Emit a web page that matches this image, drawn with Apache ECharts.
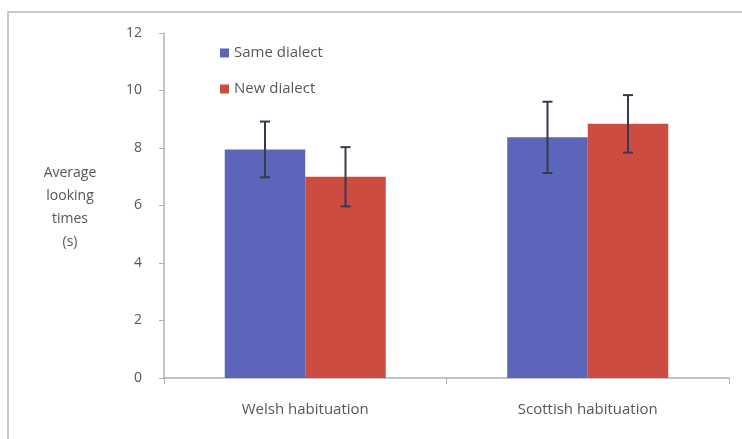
<!DOCTYPE html>
<html>
<head>
<meta charset="utf-8">
<script src="https://cdn.jsdelivr.net/npm/echarts@6/dist/echarts.min.js"></script>
<style>
  html, body { margin: 0; padding: 0; background: #ffffff; }
  #chart { width: 742px; height: 439px; }
</style>
</head>
<body>
<div id="chart"></div>
<script>
// Habituation conditions on the x axis
const categories = ['Welsh habituation', 'Scottish habituation'];
// Mean looking times (s) and their error-bar half-lengths
const sameMeans = [7.95, 8.37];
const sameErrors = [0.97, 1.24];
const newMeans = [7.0, 8.84];
const newErrors = [1.03, 1.0];
// Y axis ticks
const yTicks = [0, 2, 4, 6, 8, 10, 12];
// Y axis title, one word per line
const yTitleLines = ['Average', 'looking', 'times', '(s)'];

const BLUE = '#5d65ba';
const RED = '#cd4c41';
const CATEGORY_GAP = 0.43;
const font = '"Open Sans", Lato, sans-serif';
const TEXT = '#575757';

// Error bars for one series, shifted to sit on the centre of that series' bar
function errorSeries(means, errors, side) {
  return {
    type: 'custom',
    z: 10,
    silent: true,
    data: means.map((m, i) => [i, m - errors[i], m + errors[i]]),
    renderItem: function (params, api) {
      const band = api.size([1, 0])[0];
      const barW = band * (1 - CATEGORY_GAP) / 2;
      const lo = api.coord([api.value(0), api.value(1)]);
      const hi = api.coord([api.value(0), api.value(2)]);
      const x = lo[0] + side * barW / 2;
      const cap = 5;
      const style = { stroke: '#373a4c', lineWidth: 2 };
      return {
        type: 'group',
        children: [
          { type: 'line', shape: { x1: x, y1: lo[1], x2: x, y2: hi[1] }, style: style },
          { type: 'line', shape: { x1: x - cap, y1: hi[1], x2: x + cap, y2: hi[1] }, style: style },
          { type: 'line', shape: { x1: x - cap, y1: lo[1], x2: x + cap, y2: lo[1] }, style: style }
        ]
      };
    }
  };
}

// Y axis title drawn line by line, centred on a common x
const titleGraphics = yTitleLines.map((line, i) => ({
  type: 'text',
  x: 70,
  y: 173 + i * 23,
  style: {
    text: line,
    align: 'center',
    verticalAlign: 'middle',
    font: '14px ' + font,
    fill: TEXT
  }
}));

const chart = echarts.init(document.getElementById('chart'));
chart.setOption({
  backgroundColor: '#ffffff',
  animation: false,
  graphic: [
    {
      type: 'rect',
      shape: { x: 8, y: 12, width: 800, height: 500 },
      style: { fill: 'none', stroke: '#c9c9c9', lineWidth: 2 }
    }
  ].concat(titleGraphics),
  legend: {
    orient: 'vertical',
    left: 215,
    top: 38,
    itemGap: 16,
    itemWidth: 9,
    itemHeight: 9,
    icon: 'rect',
    textStyle: { fontFamily: font, fontSize: 15, color: TEXT, lineHeight: 20 },
    data: ['Same dialect', 'New dialect']
  },
  grid: { left: 164, right: 13, top: 33, bottom: 61, containLabel: false },
  xAxis: {
    type: 'category',
    data: categories,
    axisLine: { lineStyle: { color: '#b0b0b0', width: 1.5 } },
    axisTick: { show: true, length: 6, lineStyle: { color: '#b0b0b0' } },
    axisLabel: { fontFamily: font, fontSize: 15, color: TEXT, margin: 24 }
  },
  yAxis: {
    type: 'value',
    min: yTicks[0],
    max: yTicks[yTicks.length - 1],
    interval: 2,
    splitLine: { show: false },
    axisLine: { show: true, lineStyle: { color: '#b0b0b0', width: 1.5 } },
    axisTick: { show: true, length: 5, lineStyle: { color: '#b0b0b0' } },
    axisLabel: { fontFamily: font, fontSize: 14, color: TEXT, margin: 22 }
  },
  series: [
    {
      name: 'Same dialect',
      type: 'bar',
      data: sameMeans,
      barGap: '0%',
      barCategoryGap: (CATEGORY_GAP * 100) + '%',
      itemStyle: { color: BLUE }
    },
    {
      name: 'New dialect',
      type: 'bar',
      data: newMeans,
      barGap: '0%',
      barCategoryGap: (CATEGORY_GAP * 100) + '%',
      itemStyle: { color: RED }
    },
    errorSeries(sameMeans, sameErrors, -1),
    errorSeries(newMeans, newErrors, 1)
  ]
});
</script>
</body>
</html>
